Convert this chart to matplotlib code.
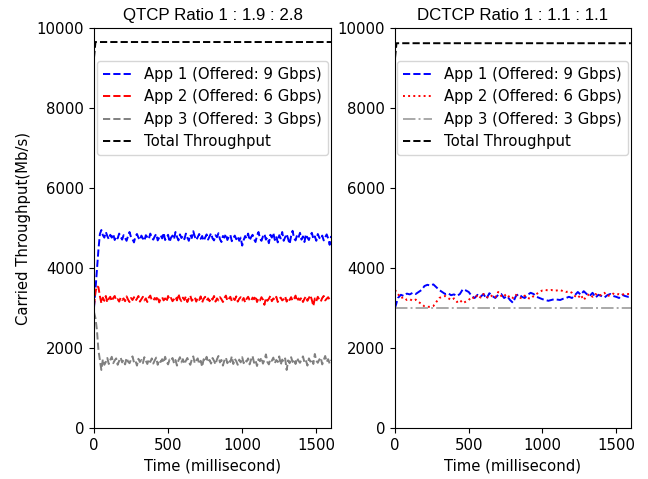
import matplotlib.pyplot as plt
import numpy as np


# QTCP panel, one sample every 10 ms
QTCP_STEP = 10
qtcp_app1 = [
    3000, 3450, 3950, 4450, 4850, 4950, 4820, 4760, 4900, 4800, 4720, 4830, 4760, 4850, 4700, 4790, 4740, 4860, 4780, 4710,
    4820, 4750, 4680, 4800, 4900, 4770, 4720, 4640, 4790, 4850, 4760, 4700, 4810, 4740, 4680, 4820, 4770, 4720, 4860, 4760,
    4710, 4790, 4850, 4690, 4760, 4820, 4740, 4880, 4700, 4770, 4830, 4650, 4760, 4810, 4720, 4900, 4780, 4690, 4840, 4750,
    4800, 4720, 4860, 4760, 4680, 4830, 4750, 4920, 4790, 4700, 4770, 4850, 4730, 4800, 4680, 4760, 4840, 4710, 4790, 4870,
    4740, 4690, 4820, 4770, 4870, 4720, 4650, 4800, 4760, 4850, 4700, 4780, 4830, 4670, 4750, 4810, 4720, 4790, 4680, 4760,
    4560, 4700, 4800, 4740, 4860, 4690, 4770, 4830, 4720, 4650, 4810, 4900, 4740, 4680, 4790, 4850, 4710, 4760, 4620, 4830,
    4760, 4880, 4700, 4790, 4640, 4820, 4740, 4900, 4680, 4770, 4850, 4720, 4600, 4800, 4930, 4740, 4690, 4820, 4760, 4880,
    4710, 4790, 4650, 4840, 4760, 4700, 4820, 4880, 4730, 4790, 4680, 4850, 4760, 4720, 4810, 4690, 4770, 4840, 4740, 4580,
    4800,
]
qtcp_app2 = [
    3050, 3400, 3550, 3520, 3300, 3120, 3260, 3180, 3300, 3140, 3230, 3280, 3170, 3250, 3300, 3190, 3220, 3160, 3260, 3200,
    3240, 3170, 3290, 3210, 3150, 3250, 3200, 3270, 3180, 3230, 3300, 3160, 3220, 3280, 3190, 3240, 3150, 3260, 3310, 3200,
    3180, 3250, 3210, 3290, 3140, 3230, 3270, 3190, 3240, 3160, 3300, 3210, 3250, 3170, 3220, 3280, 3190, 3350, 3230, 3170,
    3260, 3200, 3290, 3150, 3240, 3310, 3180, 3220, 3270, 3160, 3250, 3200, 3290, 3140, 3230, 3280, 3190, 3240, 3170, 3260,
    3210, 3300, 3160, 3240, 3190, 3270, 3220, 3150, 3250, 3310, 3180, 3230, 3280, 3170, 3240, 3200, 3290, 3160, 3230, 3270,
    3190, 3250, 3140, 3230, 3280, 3200, 3170, 3260, 3220, 3300, 3150, 3240, 3190, 3270, 3210, 3080, 3250, 3180, 3230, 3300,
    3170, 3240, 3200, 3280, 3150, 3230, 3260, 3190, 3220, 3290, 3160, 3250, 3200, 3270, 3180, 3230, 3310, 3170, 3240, 3200,
    3260, 3150, 3230, 3290, 3180, 3250, 3320, 3200, 3050, 3240, 3170, 3280, 3210, 3160, 3250, 3300, 3190, 3230, 3270, 3210,
    3240,
]
qtcp_app3 = [
    2900, 2750, 2450, 1950, 1700, 1450, 1720, 1580, 1650, 1750, 1600, 1700, 1780, 1620, 1690, 1740, 1580, 1680, 1760, 1640,
    1700, 1590, 1750, 1660, 1620, 1710, 1790, 1640, 1680, 1560, 1730, 1650, 1700, 1620, 1770, 1680, 1600, 1720, 1650, 1740,
    1610, 1690, 1760, 1580, 1700, 1650, 1720, 1630, 1780, 1660, 1590, 1710, 1680, 1750, 1620, 1700, 1560, 1690, 1770, 1640,
    1720, 1600, 1680, 1750, 1650, 1580, 1710, 1790, 1620, 1690, 1740, 1600, 1680, 1530, 1720, 1660, 1780, 1640, 1700, 1610,
    1750, 1680, 1590, 1720, 1800, 1640, 1700, 1560, 1690, 1760, 1620, 1710, 1650, 1790, 1600, 1730, 1670, 1580, 1710, 1640,
    1770, 1620, 1700, 1660, 1740, 1590, 1710, 1800, 1630, 1690, 1550, 1720, 1670, 1760, 1610, 1700, 1840, 1650, 1590, 1720,
    1680, 1760, 1620, 1700, 1650, 1790, 1580, 1710, 1660, 1740, 1450, 1690, 1620, 1770, 1650, 1720, 1600, 1750, 1680, 1630,
    1710, 1790, 1640, 1690, 1560, 1740, 1660, 1720, 1600, 1850, 1680, 1630, 1710, 1760, 1590, 1700, 1800, 1650, 1720, 1610,
    1700,
]
qtcp_total_t = [0, 10, 1600]
qtcp_total = [9250, 9650, 9650]

# DCTCP panel, one sample every 20 ms
DCTCP_STEP = 20
dctcp_app1 = [
    3000, 3250, 3330, 3300, 3360, 3340, 3380, 3350, 3400, 3450, 3550, 3580, 3560, 3590, 3520, 3450, 3400, 3350, 3370, 3320,
    3340, 3300, 3350, 3470, 3440, 3400, 3300, 3250, 3330, 3280, 3350, 3230, 3370, 3300, 3250, 3330, 3350, 3250, 3300, 3200,
    3130, 3300, 3350, 3280, 3250, 3330, 3380, 3350, 3280, 3250, 3220, 3200, 3180, 3200, 3220, 3210, 3200, 3230, 3250, 3280,
    3250, 3320, 3400, 3330, 3420, 3350, 3300, 3380, 3260, 3330, 3300, 3260, 3320, 3350, 3300, 3280, 3250, 3330, 3300, 3280,
    3300,
]
dctcp_app2 = [
    3450, 3350, 3250, 3270, 3200, 3220, 3180, 3210, 3150, 3100, 3040, 3030, 3030, 3050, 3150, 3250, 3280, 3300, 3250, 3200,
    3240, 3150, 3200, 3120, 3160, 3200, 3280, 3230, 3330, 3260, 3350, 3280, 3250, 3320, 3270, 3400, 3300, 3350, 3260, 3310,
    3250, 3330, 3270, 3240, 3310, 3250, 3230, 3300, 3350, 3400, 3440, 3450, 3440, 3450, 3430, 3440, 3450, 3420, 3400, 3420,
    3380, 3300, 3250, 3330, 3200, 3300, 3350, 3280, 3350, 3300, 3330, 3380, 3300, 3320, 3360, 3330, 3350, 3330, 3360, 3350,
    3350,
]
dctcp_app3_t = [0, 1600]
dctcp_app3 = [3000, 3000]
dctcp_total_t = [0, 10, 1600]
dctcp_total = [9250, 9620, 9620]

LABELS = [
    "App 1 (Offered: 9 Gbps)",
    "App 2 (Offered: 6 Gbps)",
    "App 3 (Offered: 3 Gbps)",
    "Total Throughput",
]

plt.rcParams["font.size"] = 10.7
plt.rcParams["lines.linewidth"] = 1.4


def _style_axes(ax, title):
    ax.set_xlim(0, 1600)
    ax.set_ylim(0, 10000)
    ax.set_xticks([0, 500, 1000, 1500])
    ax.set_title(title, fontsize=12.2, family="Liberation Sans")
    ax.set_xlabel("Time (millisecond)")
    ax.legend(loc="upper right", bbox_to_anchor=(1.0, 0.925), borderaxespad=0.2)


def main() -> None:
    fig = plt.figure(figsize=(6.48, 4.79), dpi=100)
    ax_q = fig.add_axes([0.145, 0.1065, 0.366, 0.835])
    ax_d = fig.add_axes([0.6096, 0.1065, 0.364, 0.835])

    t_q = np.arange(len(qtcp_app1)) * QTCP_STEP
    ax_q.plot(t_q, qtcp_app1, "--", color="blue", label=LABELS[0])
    ax_q.plot(t_q, qtcp_app2, "--", color="red", label=LABELS[1])
    ax_q.plot(t_q, qtcp_app3, "--", color="gray", label=LABELS[2])
    ax_q.plot(qtcp_total_t, qtcp_total, "--", color="black", label=LABELS[3])
    ax_q.set_ylabel("Carried Throughput(Mb/s)")
    _style_axes(ax_q, "QTCP Ratio 1 : 1.9 : 2.8")

    t_d = np.arange(len(dctcp_app1)) * DCTCP_STEP
    ax_d.plot(t_d, dctcp_app1, "--", color="blue", label=LABELS[0])
    ax_d.plot(t_d, dctcp_app2, ":", color="red", label=LABELS[1])
    ax_d.plot(dctcp_app3_t, dctcp_app3, "-.", color="darkgray", label=LABELS[2])
    ax_d.plot(dctcp_total_t, dctcp_total, "--", color="black", label=LABELS[3])
    _style_axes(ax_d, "DCTCP Ratio 1 : 1.1 : 1.1")

    fig.savefig("out.png", dpi=100)
    plt.close(fig)


if __name__ == "__main__":
    main()
